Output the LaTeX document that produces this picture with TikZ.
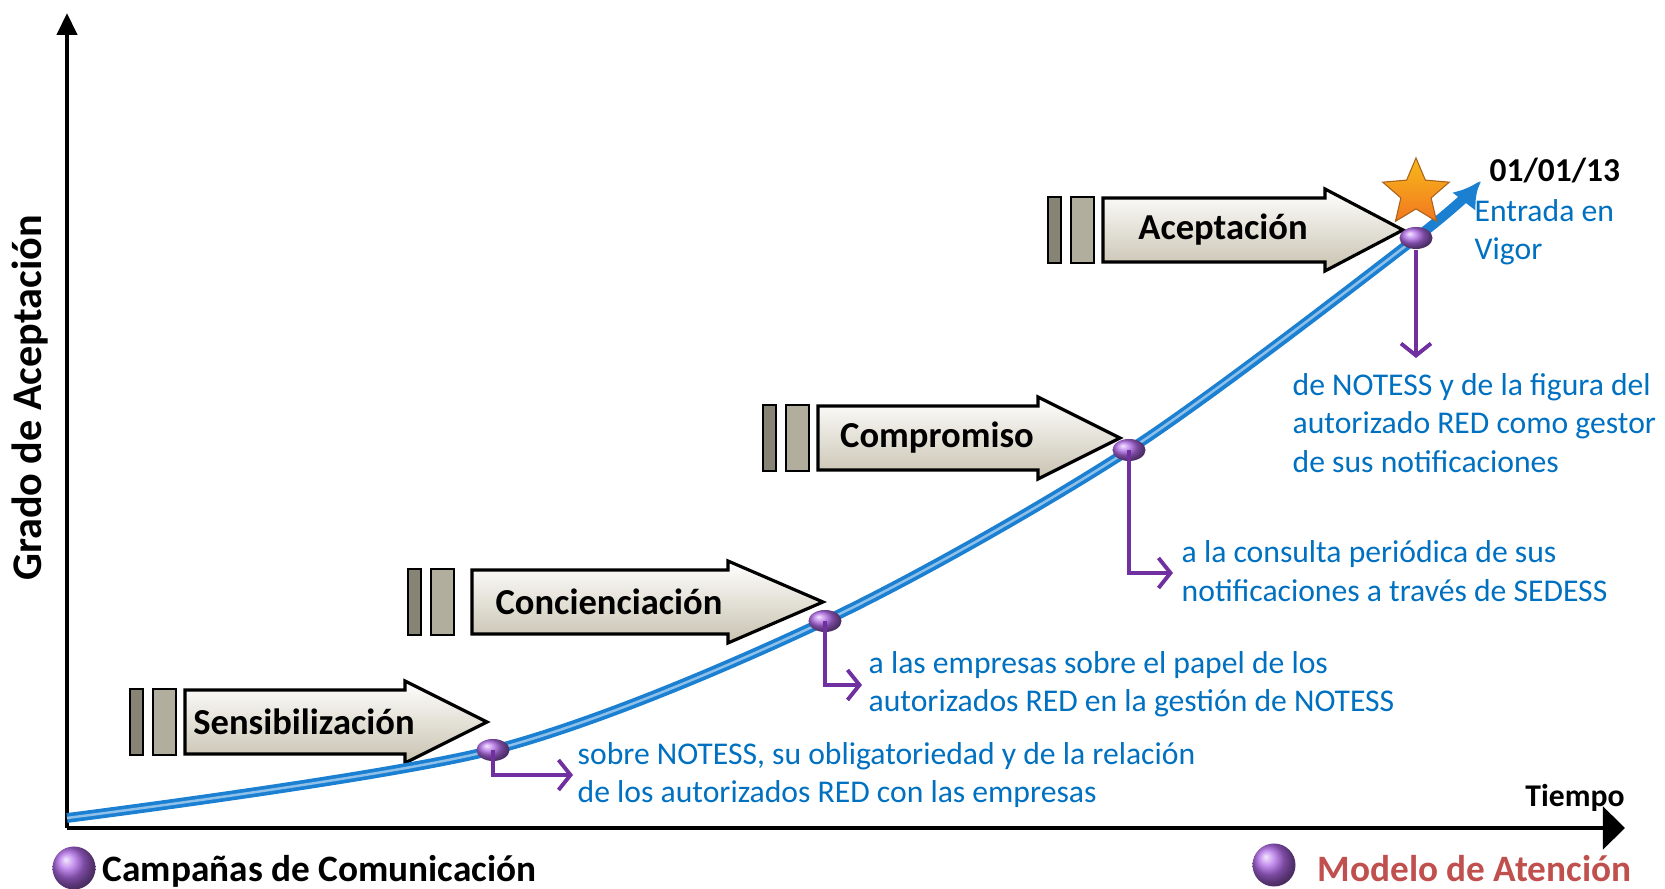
\documentclass[tikz,border=0pt]{standalone}
\usepackage{fontspec}
\setmainfont{Carlito}
\usetikzlibrary{arrows.meta,shapes.geometric}

\definecolor{txtblue}{RGB}{0,112,192}
\definecolor{curveblue}{RGB}{28,128,210}
\definecolor{lineviolet}{RGB}{112,48,160}
\definecolor{dotviolet}{RGB}{175,105,230}
\definecolor{stagebeige}{RGB}{200,194,175}
\definecolor{bardark}{RGB}{135,132,118}
\definecolor{barlight}{RGB}{178,174,158}
\definecolor{legendred}{RGB}{192,80,77}
\definecolor{starorange}{RGB}{240,140,40}

\begin{document}
\begin{tikzpicture}[x=0.01cm, y=-0.01cm,
    axis/.style={line width=1.2pt, black},
    stagearrow/.style={draw=black, line width=0.9pt, top color=white, bottom color=stagebeige},
    stagetext/.style={font=\fontsize{10.4}{12}\selectfont\bfseries, inner sep=0pt},
    note/.style={txtblue, font=\fontsize{9}{10.9}\selectfont, align=left, anchor=west, inner sep=0pt},
    dot/.style={ellipse, ball color=dotviolet, minimum width=0.33cm, minimum height=0.22cm, inner sep=0pt},
    link/.style={lineviolet, line width=1.1pt, -{Straight Barb[length=0.12cm, width=0.3cm, line width=1.1pt]}}]
    \useasboundingbox (0,0) rectangle (1665,889);

    % Axes
    \coordinate (origin) at (67,828);
    \coordinate (ytop) at (67,13);
    \coordinate (xend) at (1625,828);
    \draw[axis, -{Triangle[length=0.22cm, width=0.2cm]}] (origin) -- (ytop);
    \draw[axis, line width=1.4pt, -{Triangle[length=0.22cm, width=0.42cm]}] (origin) -- (xend);
    \node[rotate=90, font=\fontsize{12}{14}\selectfont\bfseries] (ylabel) at (30,398) {Grado de Aceptación};
    \node[font=\fontsize{9}{11}\selectfont\bfseries] (tiempo) at (1575,798) {Tiempo};

    % Stages: bars, body, head start, tip, centre
    \foreach \bx/\ax/\hx/\tx/\cy/\nm/\txt in {130/185/405/487/722/sens/Sensibilización,
        408/472/728/823/602/conc/Concienciación,
        763/818/1038/1120/438/comp/Compromiso,
        1048/1103/1325/1403/230/acep/Aceptación} {
        \draw[line width=0.8pt, fill=bardark] (\bx,\cy-33) rectangle (\bx+13,\cy+33);
        \draw[line width=0.8pt, fill=barlight] (\bx+23,\cy-33) rectangle (\bx+46,\cy+33);
        \draw[stagearrow] (\ax,\cy-32) -- (\hx,\cy-32) -- (\hx,\cy-41) -- (\tx,\cy)
            -- (\hx,\cy+41) -- (\hx,\cy+32) -- (\ax,\cy+32) -- cycle;
        \node[stagetext] (\nm) at ({(\ax+\hx)/2+9},\cy) {\txt};
    }

    % Curve
    \coordinate (p0) at (67,818);
    \coordinate (p1) at (493,750);
    \coordinate (p2) at (825,621);
    \coordinate (p3) at (1129,450);
    \coordinate (p4) at (1416,238);
    \coordinate (p5) at (1480,181);
    \draw[curveblue, line width=2.8pt, -{Latex[length=0.26cm, width=0.3cm]}] plot[smooth] coordinates {(p0) (p1) (p2) (p3) (p4) (p5)};
    \draw[curveblue!50!white, line width=0.7pt] plot[smooth] coordinates {(p0) (p1) (p2) (p3) (p4)};

    % Star
    \node[star, star points=5, star point ratio=2.2, draw=starorange!70!black, line width=0.3pt,
        top color=starorange!60!yellow, bottom color=starorange!85!red, minimum size=0.7cm, inner sep=0pt] (star) at (1416,193) {};

    % Milestones
    \node[dot] (d1) at (p1) {};
    \node[dot] (d2) at (p2) {};
    \node[dot] (d3) at (p3) {};
    \node[dot] (d4) at (p4) {};

    \coordinate (e1) at (573,775);
    \coordinate (e2) at (862,685);
    \coordinate (e3) at (1173,573);
    \coordinate (e4) at (1416,358);
    \draw[link] (d1.center) |- (e1);
    \draw[link] (d2.center) |- (e2);
    \draw[link] (d3.center) |- (e3);
    \draw[link] (d4.south) -- (e4);

    % Notes
    \node[note] (n1) at (577,775) {sobre NOTESS, su obligatoriedad y de la relación\\de los autorizados RED con las empresas};
    \node[note] (n2) at (868,684) {a las empresas sobre el papel de los\\autorizados RED en la gestión de NOTESS};
    \node[note] (n3) at (1181,571) {a la consulta periódica de sus\\notificaciones a través de SEDESS};
    \node[note] (n4) at (1292,423) {de NOTESS y de la figura del\\autorizado RED como gestor\\de sus notificaciones};
    \node[note] (n5) at (1474,232) {Entrada en\\Vigor};
    \node[anchor=west, inner sep=0pt, font=\fontsize{9.5}{11}\selectfont\bfseries] (fecha) at (1489,171) {01/01/13};

    % Legend
    \node[circle, ball color=dotviolet, minimum size=0.43cm, inner sep=0pt] (lg1) at (74,868) {};
    \node[anchor=west, inner sep=0pt, font=\fontsize{10.6}{12}\selectfont\bfseries] (lt1) at (102,871) {Campañas de Comunicación};
    \node[circle, ball color=dotviolet, minimum size=0.43cm, inner sep=0pt] (lg2) at (1274,865) {};
    \node[anchor=west, inner sep=0pt, legendred, font=\fontsize{10.6}{12}\selectfont\bfseries] (lt2) at (1317,869) {Modelo de Atención};
\end{tikzpicture}
\end{document}
